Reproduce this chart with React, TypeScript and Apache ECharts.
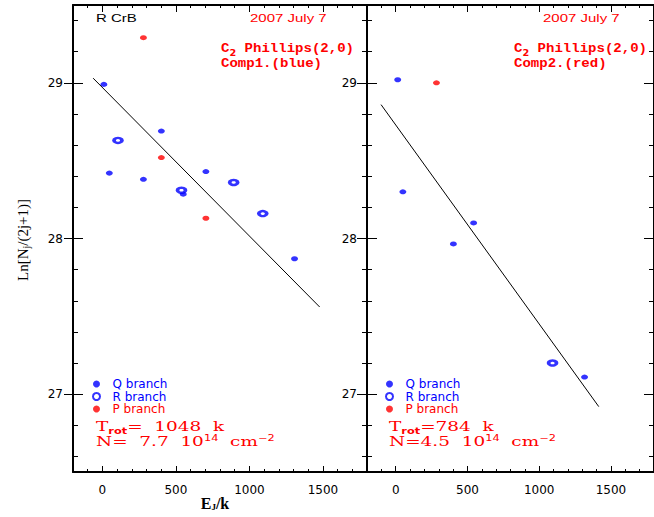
import React, { useEffect, useRef } from 'react';
import * as echarts from 'echarts';

// Axis ticks / labels
const xMajor = [0, 500, 1000, 1500];
const yMinor = [26.6, 26.8, 27.0, 27.2, 27.4, 27.6, 27.8, 28.0, 28.2, 28.4, 28.6, 28.8, 29.0, 29.2, 29.4];
const yMajor = [27, 28, 29];

// Component 1 (blue)
const comp1QX = [10, 47, 279, 401, 550, 704, 1307];
const comp1QY = [28.99, 28.42, 28.38, 28.69, 28.285, 28.43, 27.87];
const comp1RX = [106, 538, 893, 1091];
const comp1RY = [28.63, 28.31, 28.36, 28.16];
const comp1PX = [279, 401, 704];
const comp1PY = [29.29, 28.52, 28.13];
const fit1X = [-63, 1478];
const fit1Y = [29.03, 27.56];

// Component 2 (red)
const comp2QX = [14, 50, 402, 543, 1316];
const comp2QY = [29.02, 28.3, 27.965, 28.1, 27.11];
const comp2RX = [1093];
const comp2RY = [27.2];
const comp2PX = [284];
const comp2PY = [29.0];
const fit2X = [-102, 1415];
const fit2Y = [28.86, 26.92];

const BLUE = '#0000ff';
const RED = '#ff0000';
const SANS = 'Liberation Sans';
const SERIF = 'DejaVu Serif';

const zip = (xs: number[], ys: number[]) => xs.map((x, i) => [x, ys[i]]);
const plain = (v: number) => String(v);

function xAxes(g: number) {
  const line = { onZero: false, lineStyle: { color: '#000', width: 2 } };
  const noLine = { show: false, onZero: false };
  const base = { gridIndex: g, type: 'value', min: -200, max: 1800, interval: 100, splitLine: { show: false } };
  return [
    {
      ...base, position: 'bottom', axisLine: line,
      axisTick: { inside: true, length: 3, lineStyle: { color: '#000' } },
      axisLabel: { customValues: xMajor, formatter: plain, fontSize: 12, color: '#000', margin: 12, fontFamily: 'DejaVu Sans' },
    },
    {
      ...base, position: 'bottom', axisLine: noLine,
      axisTick: { inside: true, length: 6, customValues: xMajor, lineStyle: { color: '#000' } },
      axisLabel: { show: false },
    },
    {
      ...base, position: 'top', axisLine: line,
      axisTick: { inside: true, length: 3, lineStyle: { color: '#000' } },
      axisLabel: { show: false },
    },
    {
      ...base, position: 'top', axisLine: noLine,
      axisTick: { inside: true, length: 7, customValues: xMajor, lineStyle: { color: '#000' } },
      axisLabel: { show: false },
    },
  ];
}

function yAxes(g: number) {
  const line = { onZero: false, lineStyle: { color: '#000', width: 2 } };
  const noLine = { show: false, onZero: false };
  const base = { gridIndex: g, type: 'value', min: 26.5, max: 29.5, splitLine: { show: false } };
  return [
    {
      ...base, position: 'left', axisLine: line,
      axisTick: { inside: true, length: 5, customValues: yMinor, lineStyle: { color: '#000' } },
      axisLabel: { customValues: yMajor, formatter: plain, fontSize: 12, color: '#000', margin: 10, fontFamily: 'DejaVu Sans' },
    },
    {
      ...base, position: 'left', axisLine: noLine,
      axisTick: { inside: true, length: 10, customValues: yMajor, lineStyle: { color: '#000' } },
      axisLabel: { show: false },
    },
    {
      ...base, position: 'left', axisLine: noLine,
      axisTick: { inside: false, length: 9, customValues: yMajor, lineStyle: { color: '#000' } },
      axisLabel: { show: false },
    },
    {
      ...base, position: 'right', axisLine: line,
      axisTick: { inside: true, length: 5, customValues: yMinor, lineStyle: { color: '#000' } },
      axisLabel: { show: false },
    },
    {
      ...base, position: 'right', axisLine: noLine,
      axisTick: { inside: true, length: 10, customValues: yMajor, lineStyle: { color: '#000' } },
      axisLabel: { show: false },
    },
  ];
}

function panelSeries(g: number, q: number[][], r: number[][], p: number[][], fit: number[][]) {
  const xi = g * 4;
  const yi = g * 5;
  return [
    {
      name: 'Q branch', type: 'scatter', xAxisIndex: xi, yAxisIndex: yi, data: q,
      symbol: 'circle', symbolSize: [7, 5], itemStyle: { color: BLUE },
    },
    {
      name: 'R branch', type: 'scatter', xAxisIndex: xi, yAxisIndex: yi, data: r,
      symbol: 'circle', symbolSize: [8, 5], itemStyle: { color: '#ffffff', borderColor: BLUE, borderWidth: 3 },
    },
    {
      name: 'P branch', type: 'scatter', xAxisIndex: xi, yAxisIndex: yi, data: p,
      symbol: 'circle', symbolSize: [7, 5], itemStyle: { color: RED },
    },
    {
      name: 'fit' + g, type: 'line', xAxisIndex: xi, yAxisIndex: yi, data: fit,
      symbol: 'none', lineStyle: { color: '#000', width: 1 }, silent: true,
    },
  ];
}

function legendFor(left: number) {
  return {
    left, top: 378, orient: 'vertical', itemWidth: 16, itemHeight: 7, itemGap: 0.5, padding: 0,
    selectedMode: false,
    textStyle: { fontSize: 12, fontFamily: 'DejaVu Sans', lineHeight: 12, padding: [0, 0, 0, 3] },
    data: [
      { name: 'Q branch', textStyle: { color: BLUE } },
      { name: 'R branch', textStyle: { color: BLUE } },
      { name: 'P branch', textStyle: { color: RED } },
    ],
  };
}

function sansText(x: number, y: number, text: string, color: string) {
  return {
    type: 'text', x, y, scaleX: 1.5,
    style: { text, fill: color, fontSize: 10, fontFamily: SANS, verticalAlign: 'middle', textAlign: 'left' },
  };
}

function monoText(x: number, y: number, text: string, rich?: any) {
  return {
    type: 'text', x, y, scaleX: 1.08,
    style: {
      text, fill: RED, fontSize: 13, fontWeight: 'bold', fontFamily: 'Liberation Mono',
      verticalAlign: 'middle', textAlign: 'left', rich,
    },
  };
}

const monoRich = {
  m: { fill: RED, fontSize: 13, fontWeight: 'bold', fontFamily: 'Liberation Mono' },
  s: { fill: RED, fontSize: 9, fontWeight: 'bold', fontFamily: 'DejaVu Sans', padding: [7, 0, 0, 0] },
};

const statRich = {
  a: { fill: RED, fontSize: 13, fontFamily: SERIF },
  s: { fill: RED, fontSize: 8, fontWeight: 'bold', fontFamily: 'DejaVu Sans', padding: [8, 0, 0, 0] },
  u: { fill: RED, fontSize: 8, fontFamily: 'DejaVu Sans', padding: [0, 0, 7, 0] },
};

function statText(x: number, y: number, text: string) {
  return {
    type: 'text', x, y, scaleX: 1.42,
    style: { text, verticalAlign: 'middle', textAlign: 'left', rich: statRich },
  };
}

export default function App() {
  const ref = useRef<HTMLDivElement>(null);
  useEffect(() => {
    if (!ref.current) return;
    const chart = echarts.init(ref.current, null, { renderer: 'svg' });
    const option: any = {
      animation: false,
      backgroundColor: '#ffffff',
      grid: [
        { left: 73, top: 5, width: 294, height: 467 },
        { left: 367, top: 5, width: 294, height: 467 },
      ],
      xAxis: [...xAxes(0), ...xAxes(1)],
      yAxis: [...yAxes(0), ...yAxes(1)],
      legend: [legendFor(92), legendFor(385)],
      series: [
        ...panelSeries(0, zip(comp1QX, comp1QY), zip(comp1RX, comp1RY), zip(comp1PX, comp1PY), zip(fit1X, fit1Y)),
        ...panelSeries(1, zip(comp2QX, comp2QY), zip(comp2RX, comp2RY), zip(comp2PX, comp2PY), zip(fit2X, fit2Y)),
      ],
      graphic: [
        sansText(96, 18, 'R CrB', '#000'),
        sansText(250, 18, '2007 July 7', RED),
        sansText(543, 18, '2007 July 7', RED),
        monoText(221, 49, '{m|C}{s|2}{m| Phillips(2,0)}', monoRich),
        monoText(221, 64, 'Comp1.(blue)'),
        monoText(514, 49, '{m|C}{s|2}{m| Phillips(2,0)}', monoRich),
        monoText(514, 64, 'Comp2.(red)'),
        statText(96, 427, '{a|T}{s|rot}{a|=  1048  k}'),
        statText(96, 442, '{a|N=  7.7  10}{u|14}{a|  cm}{u|−2}'),
        statText(389, 427, '{a|T}{s|rot}{a|=784  k}'),
        statText(389, 442, '{a|N=4.5  10}{u|14}{a|  cm}{u|−2}'),
        {
          type: 'text', x: 23, y: 240, rotation: Math.PI / 2,
          style: {
            text: '{a|Ln[N}{s|j}{a|/(2j+1)]}', verticalAlign: 'middle', textAlign: 'center',
            rich: {
              a: { fill: '#000', fontSize: 15, fontFamily: 'Liberation Serif' },
              s: { fill: '#000', fontSize: 10, fontFamily: 'Liberation Serif', padding: [7, 0, 0, 0] },
            },
          },
        },
        {
          type: 'text', x: 215, y: 503,
          style: {
            text: '{a|E}{s|J}{a|/k}', verticalAlign: 'middle', textAlign: 'center',
            rich: {
              a: { fill: '#000', fontSize: 16, fontFamily: 'Liberation Serif', fontWeight: 'bold' },
              s: { fill: '#000', fontSize: 9, fontFamily: 'Liberation Serif', fontWeight: 'bold', padding: [7, 0, 0, 0] },
            },
          },
        },
      ],
    };
    chart.setOption(option);
    return () => chart.dispose();
  }, []);
  return (
    <div
      ref={ref}
      style={{ position: 'fixed', left: 0, top: 0, width: 654, height: 517, background: '#fff' }}
    />
  );
}
